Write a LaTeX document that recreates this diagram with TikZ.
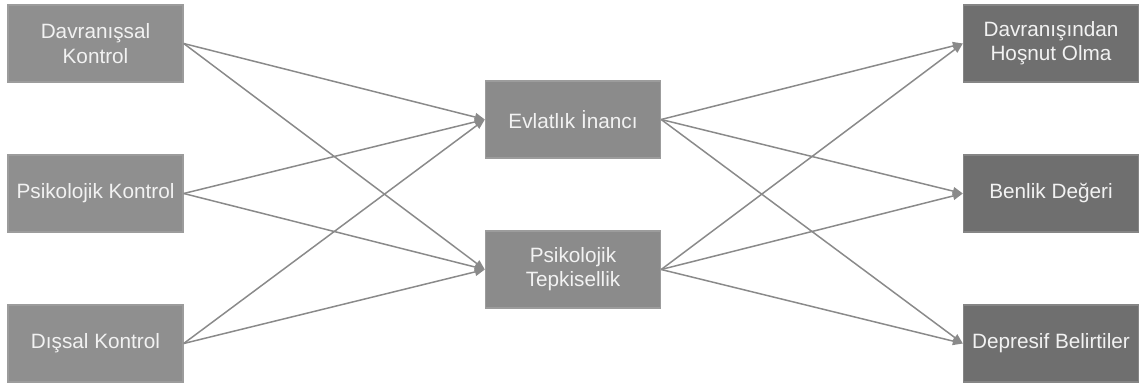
\documentclass[tikz,border=0pt]{standalone}
\usepackage{fontspec}
\setmainfont{Liberation Sans}
\usetikzlibrary{arrows.meta}
\definecolor{boxlight}{HTML}{8F8F8F}
\definecolor{boxdark}{HTML}{6F6F6F}
\definecolor{boxedge}{HTML}{9C9C9C}
\definecolor{linkgray}{HTML}{8A8A8A}
\definecolor{textwhite}{HTML}{F2F2F2}
\begin{document}
\begin{tikzpicture}
	[x=0.02cm, y=-0.02cm,%
	parent/.style ={rectangle,	draw=boxedge,	fill=boxlight,	thick,	inner sep=0pt,	minimum width=3.5cm,	minimum height=1.54cm,	align=center,	text=textwhite,	font=\fontsize{11.8}{13.8}\selectfont},%
	mediator/.style={parent,	fill=boxlight!97!black},%
	outcome/.style ={parent,	fill=boxdark,	draw=boxdark!85!white},%
	link/.style    ={draw=linkgray,	line width=0.85pt,	-{Triangle[length=2mm,width=1.6mm]}},%
	]

	\useasboundingbox (0,0) rectangle (1139,385);

	\newcommand{\lpar}{95.5}
	\newcommand{\lmed}{573}
	\newcommand{\lout}{1051}

	% nodes
	\node (par1) at (\lpar,43.5)  [parent] {Davranışsal\\Kontrol};
	\node (par2) at (\lpar,193.5) [parent] {Psikolojik Kontrol};
	\node (par3) at (\lpar,343.5) [parent] {Dışsal Kontrol};

	\node (med1) at (\lmed,119.5) [mediator] {Evlatlık İnancı};
	\node (med2) at (\lmed,269.5) [mediator] {Psikolojik\\Tepkisellik};

	\node (out1) at (\lout,43.5)  [outcome] {Davranışından\\Hoşnut Olma};
	\node (out2) at (\lout,193.5) [outcome] {Benlik Değeri};
	\node (out3) at (\lout,343.5) [outcome] {Depresif Belirtiler};

	% interconnections
	% parent - mediator
	\foreach \i in {1,2,3}%
		\foreach \j in {1,2}%
			\draw [link] (par\i.east) -- (med\j.west);

	% mediator - outcome
	\foreach \i in {1,2}%
		\foreach \j in {1,2,3}%
			\draw [link] (med\i.east) -- (out\j.west);

\end{tikzpicture}
\end{document}
